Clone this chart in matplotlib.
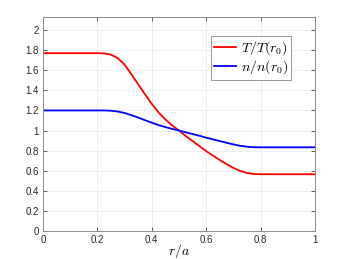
import matplotlib
matplotlib.use("Agg")
import matplotlib.pyplot as plt

r = [0.0, 0.2, 0.225, 0.25, 0.275, 0.3, 0.325, 0.35, 0.375, 0.4, 0.425, 0.45, 0.475,
     0.5, 0.525, 0.55, 0.575, 0.6, 0.625, 0.65, 0.675, 0.7, 0.725, 0.75, 0.775, 0.8, 1.0]
T_ratio = [1.77, 1.77, 1.768, 1.755, 1.72, 1.655, 1.56, 1.46, 1.36, 1.265, 1.18, 1.11, 1.05,
           1.0, 0.945, 0.895, 0.845, 0.795, 0.75, 0.706, 0.665, 0.628, 0.598, 0.577, 0.567, 0.565, 0.565]
n_ratio = [1.2, 1.2, 1.2, 1.197, 1.189, 1.175, 1.153, 1.129, 1.103, 1.078, 1.054, 1.034, 1.016,
           1.0, 0.982, 0.965, 0.948, 0.929, 0.912, 0.895, 0.878, 0.862, 0.848, 0.839, 0.834, 0.833, 0.833]

xticks = [0, 0.2, 0.4, 0.6, 0.8, 1]
xticklabels = ["0", "0.2", "0.4", "0.6", "0.8", "1"]
yticks = [0, 0.2, 0.4, 0.6, 0.8, 1, 1.2, 1.4, 1.6, 1.8, 2]
yticklabels = ["0", "0.2", "0.4", "0.6", "0.8", "1", "1.2", "1.4", "1.6", "1.8", "2"]

plt.rcParams['mathtext.fontset'] = 'cm'
plt.rcParams['font.family'] = ['Liberation Sans', 'DejaVu Sans']

fig = plt.figure(figsize=(3.46, 2.59), dpi=100)
ax = fig.add_axes([43/346, 28/259, 272/346, 214/259])

ax.plot(r, T_ratio, color='#ff0000', lw=1.3, label=r'$T/T(r_0)$')
ax.plot(r, n_ratio, color='#0000ff', lw=1.3, label=r'$n/n(r_0)$')

ax.set_xlim(0, 1)
ax.set_ylim(0, 2.13)
ax.set_xticks(xticks)
ax.set_xticklabels(xticklabels)
ax.set_yticks(yticks)
ax.set_yticklabels(yticklabels)
ax.grid(True, color='#ebebeb', lw=0.6)
ax.set_axisbelow(True)
ax.tick_params(direction='in', length=3, width=0.5, colors='#262626', labelsize=7,
               top=True, right=True, pad=3)
for s in ax.spines.values():
    s.set_color('#8a8a8a')
    s.set_linewidth(0.7)

ax.set_xlabel(r'$r/a$', fontsize=10, labelpad=-2)

leg = ax.legend(loc='upper right', bbox_to_anchor=(0.912, 0.911), borderaxespad=0,
                fontsize=10, fancybox=False, framealpha=1, edgecolor='#8a8a8a',
                handlelength=1.6, handletextpad=0.3, borderpad=0.25, labelspacing=0.1)
leg.get_frame().set_linewidth(0.6)

fig.savefig('out.png', dpi=100)
